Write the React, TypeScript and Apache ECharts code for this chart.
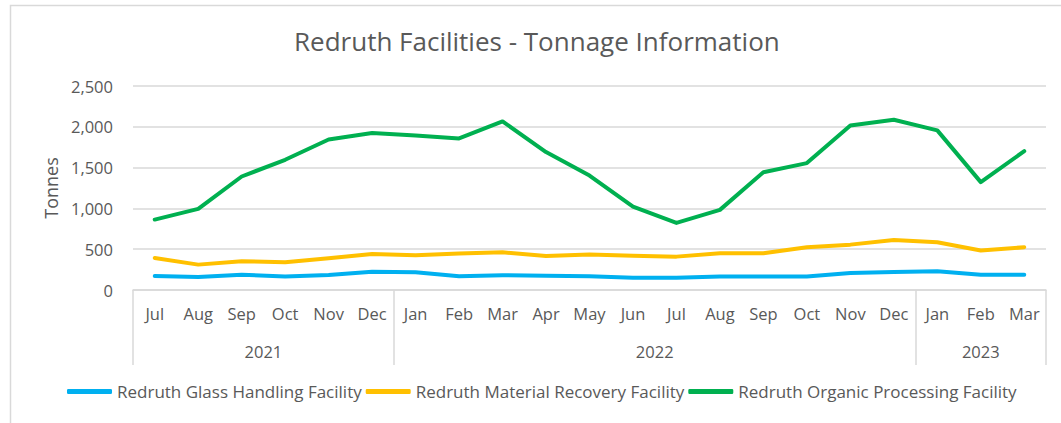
import React, { useEffect, useRef } from "react";
import * as echarts from "echarts";

const months = ["Jul", "Aug", "Sep", "Oct", "Nov", "Dec", "Jan", "Feb", "Mar", "Apr", "May", "Jun", "Jul", "Aug", "Sep", "Oct", "Nov", "Dec", "Jan", "Feb", "Mar"];
const years = ["2021", "2022", "2023"];
const yearMonthCounts = [6, 12, 3];

const glass = [172, 160, 188, 164, 184, 225, 217, 168, 180, 176, 168, 151, 151, 164, 164, 164, 209, 221, 229, 188, 188];
const material = [393, 311, 352, 340, 389, 442, 426, 446, 462, 417, 434, 421, 409, 450, 450, 524, 556, 614, 585, 483, 524];
const organic = [863, 994, 1391, 1596, 1845, 1923, 1894, 1858, 2066, 1690, 1403, 1023, 822, 982, 1444, 1555, 2017, 2087, 1956, 1322, 1702];

const seriesNames = [
  "Redruth Glass Handling Facility",
  "Redruth Material Recovery Facility",
  "Redruth Organic Processing Facility",
];
const seriesColors = ["#00B0F0", "#FFC000", "#00B050"];

const FONT = "Open Sans";
const TEXT = "#595959";
const GRID = "#d9d9d9";

export default function App() {
  const ref = useRef<HTMLDivElement>(null);

  useEffect(() => {
    document.body.style.margin = "0";
    if (!ref.current) return;
    const chart = echarts.init(ref.current, undefined, { renderer: "svg" });

    const boundaries: number[] = [];
    const centres: Record<string, string> = {};
    let acc = 0;
    yearMonthCounts.forEach((n, i) => {
      boundaries.push(acc);
      centres[String(acc + n / 2)] = years[i];
      acc += n;
    });

    const data = [glass, material, organic];

    chart.setOption({
      animation: false,
      title: {
        text: "Redruth Facilities - Tonnage Information",
        left: 289,
        top: 23,
        textStyle: { fontFamily: FONT, fontSize: 26, fontWeight: "normal", color: TEXT },
      },
      graphic: [
        {
          type: "rect",
          shape: { x: 10.5, y: 5.5, width: 1200, height: 600 },
          style: { fill: "none", stroke: GRID, lineWidth: 1.5 },
          silent: true,
        },
      ],
      legend: {
        bottom: 18,
        left: 62,
        icon: "roundRect",
        itemWidth: 45,
        itemHeight: 5,
        itemGap: 4,
        textStyle: { fontFamily: FONT, fontSize: 17, color: TEXT },
        data: seriesNames,
      },
      grid: { left: 133, right: 15, top: 86, bottom: 133, containLabel: false },
      xAxis: [
        {
          type: "category",
          data: months,
          position: "bottom",
          boundaryGap: true,
          axisLine: { show: true, lineStyle: { color: GRID, width: 1.5 } },
          axisTick: { show: false },
          axisLabel: { interval: 0, margin: 15, fontFamily: FONT, fontSize: 16.5, color: TEXT },
        },
        {
          type: "category",
          data: months.map((_, i) => String(i)),
          position: "bottom",
          boundaryGap: true,
          axisLine: { show: false },
          axisLabel: { show: false },
          axisTick: {
            show: true,
            length: 75,
            interval: (index: number) => boundaries.indexOf(index) >= 0,
            lineStyle: { color: GRID, width: 1.5 },
          },
        },
        {
          type: "value",
          min: 0,
          max: months.length,
          interval: 0.5,
          position: "bottom",
          splitLine: { show: false },
          axisLine: { show: false },
          axisTick: { show: false },
          axisLabel: {
            margin: 53,
            fontFamily: FONT,
            fontSize: 16.5,
            color: TEXT,
            showMinLabel: true,
            showMaxLabel: true,
            formatter: (v: number) => centres[String(v)] || "",
          },
        },
      ],
      yAxis: {
        type: "value",
        min: 0,
        max: 2500,
        interval: 500,
        name: "Tonnes",
        nameLocation: "middle",
        nameGap: 73,
        nameTextStyle: { fontFamily: FONT, fontSize: 18, color: TEXT },
        axisLine: { show: false },
        axisTick: { show: false },
        splitLine: { lineStyle: { color: GRID, width: 1.5 } },
        axisLabel: {
          margin: 20,
          fontFamily: FONT,
          fontSize: 16.5,
          color: TEXT,
          formatter: (v: number) => v.toLocaleString("en-US"),
        },
      },
      series: seriesNames.map((name, i) => ({
        name,
        type: "line",
        xAxisIndex: 0,
        data: data[i],
        symbol: "none",
        color: seriesColors[i],
        lineStyle: { width: 4, color: seriesColors[i], cap: "round", join: "round" },
      })),
    });

    return () => chart.dispose();
  }, []);

  return <div ref={ref} style={{ width: 1061, height: 423 }} />;
}
